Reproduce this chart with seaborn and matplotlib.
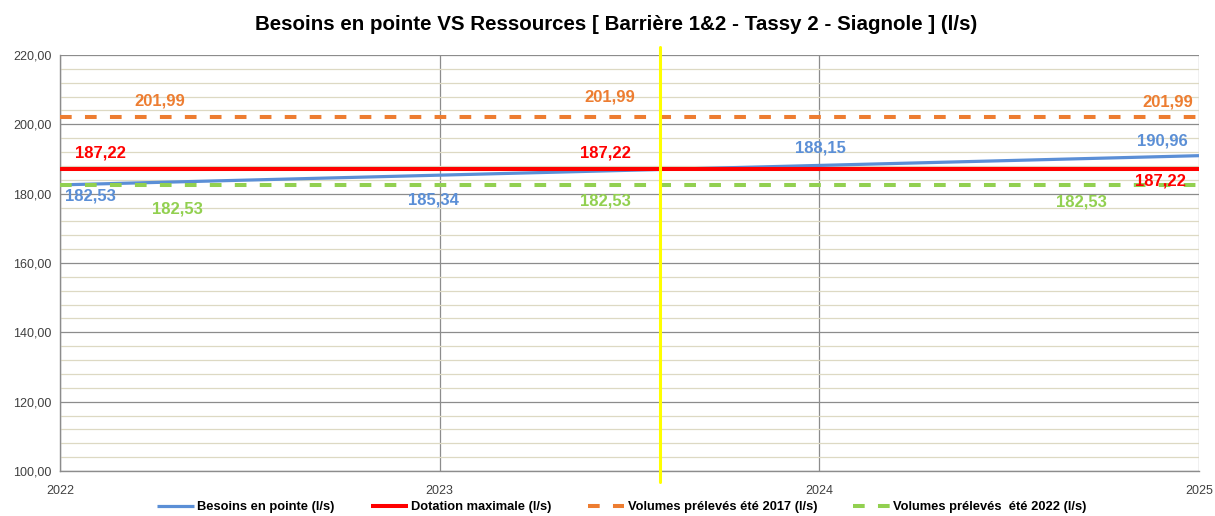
import matplotlib
matplotlib.use("Agg")
import matplotlib.pyplot as plt
import matplotlib.ticker as mticker
import seaborn as sns
import pandas as pd

# ---- data ----
years = [2022, 2023, 2024, 2025]
besoins = [182.53, 185.34, 188.15, 190.96]
dotation = [187.22, 187.22, 187.22, 187.22]
vol_2017 = [201.99, 201.99, 201.99, 201.99]
vol_2022 = [182.53, 182.53, 182.53, 182.53]
today_marker = 2023.58
series_names = ["Besoins en pointe (l/s)", "Dotation maximale (l/s)",
                "Volumes prélevés été 2017 (l/s)", "Volumes prélevés  été 2022 (l/s)"]
title = "Besoins en pointe VS Ressources [ Barrière 1&2 - Tassy 2 - Siagnole ] (l/s)"
y_ticks = [100, 120, 140, 160, 180, 200, 220]

# ---- styles ----
colors = ["#5B8FD6", "#FF0000", "#ED7D31", "#92D050"]
widths = [2.3, 2.9, 2.9, 2.9]
dashes = [None, None, (2.9, 3.3), (2.9, 3.3)]

sns.set_theme(style="white")
plt.rcParams["font.family"] = ["Liberation Sans", "DejaVu Sans"]

fig = plt.figure(figsize=(12.15, 5.16), dpi=100)
ax = fig.add_axes([60 / 1215, 1 - 471 / 516, (1199 - 60) / 1215, (471 - 55) / 516])

all_values = [besoins, dotation, vol_2017, vol_2022]
for name, vals, c, w, d in zip(series_names, all_values, colors, widths, dashes):
    df = pd.DataFrame({"year": years, "value": vals})
    sns.lineplot(data=df, x="year", y="value", ax=ax, color=c, linewidth=w,
                 label=name, zorder=3)
    ln = ax.lines[-1]
    if d is not None:
        ln.set_dashes(d)
        ln.set_dash_capstyle("butt")
    ln.set_solid_capstyle("butt")

# yellow marker line (extends slightly beyond axes)
ax.axvline(today_marker, ymin=-0.027, ymax=1.02, color="#FFFF00", linewidth=2.2,
           zorder=5, clip_on=False)

ax.set_xlim(2022, 2025)
ax.set_ylim(100, 220)
ax.set_xticks(years)
ax.set_yticks(y_ticks)
ax.yaxis.set_minor_locator(mticker.MultipleLocator(4))
ax.yaxis.set_major_formatter(mticker.FuncFormatter(lambda v, p: f"{v:.2f}".replace(".", ",")))
ax.grid(which="major", axis="both", color="#8C8C8C", linewidth=0.9, zorder=0)
ax.grid(which="minor", axis="y", color="#DDD9C3", linewidth=0.9, zorder=0)
ax.set_axisbelow(True)
for s in ["top", "right"]:
    ax.spines[s].set_visible(False)
for s in ["left", "bottom"]:
    ax.spines[s].set_color("#8C8C8C")
    ax.spines[s].set_linewidth(1.0)
ax.tick_params(axis="both", which="both", length=0, labelsize=9, colors="#404040")
ax.tick_params(axis="x", pad=10)
ax.tick_params(axis="y", pad=6)
ax.set_xlabel("")
ax.set_ylabel("")

# ---- data labels (position in pixel-derived axes fractions) ----
def fmt(v):
    return f"{v:.2f}".replace(".", ",")

label_layout = [
    # (series index, value index, x_px, y_px)
    (2, 0, 160, 101), (2, 1, 610, 97), (2, 3, 1168, 102),
    (1, 0, 100, 153), (1, 1, 605, 153), (1, 3, 1160, 181),
    (0, 0, 90, 196), (0, 1, 433, 200), (0, 2, 820, 148), (0, 3, 1162, 141),
    (3, 0, 177, 209), (3, 1, 605, 201), (3, 3, 1081, 202),
]
for si, vi, xp, yp in label_layout:
    fx = (xp - 60) / (1199 - 60)
    fy = (471 - yp) / (471 - 55)
    ax.text(fx, fy, fmt(all_values[si][vi]), transform=ax.transAxes, ha="center",
            va="center", fontsize=12, fontweight="bold", color=colors[si], zorder=6)

fig.text(616 / 1215, 1 - 25 / 516, title, ha="center", va="center", fontsize=14.8,
         fontweight="bold", color="#000000")

leg = ax.legend(loc="center", bbox_to_anchor=(622 / 1215, 1 - 507 / 516),
                bbox_transform=fig.transFigure, ncol=4, frameon=False,
                handlelength=2.85, handletextpad=0.25, columnspacing=2.8,
                prop={"size": 9.3, "weight": "bold"})
for t in leg.get_texts():
    t.set_color("#000000")

fig.savefig("out.png", dpi=100)
